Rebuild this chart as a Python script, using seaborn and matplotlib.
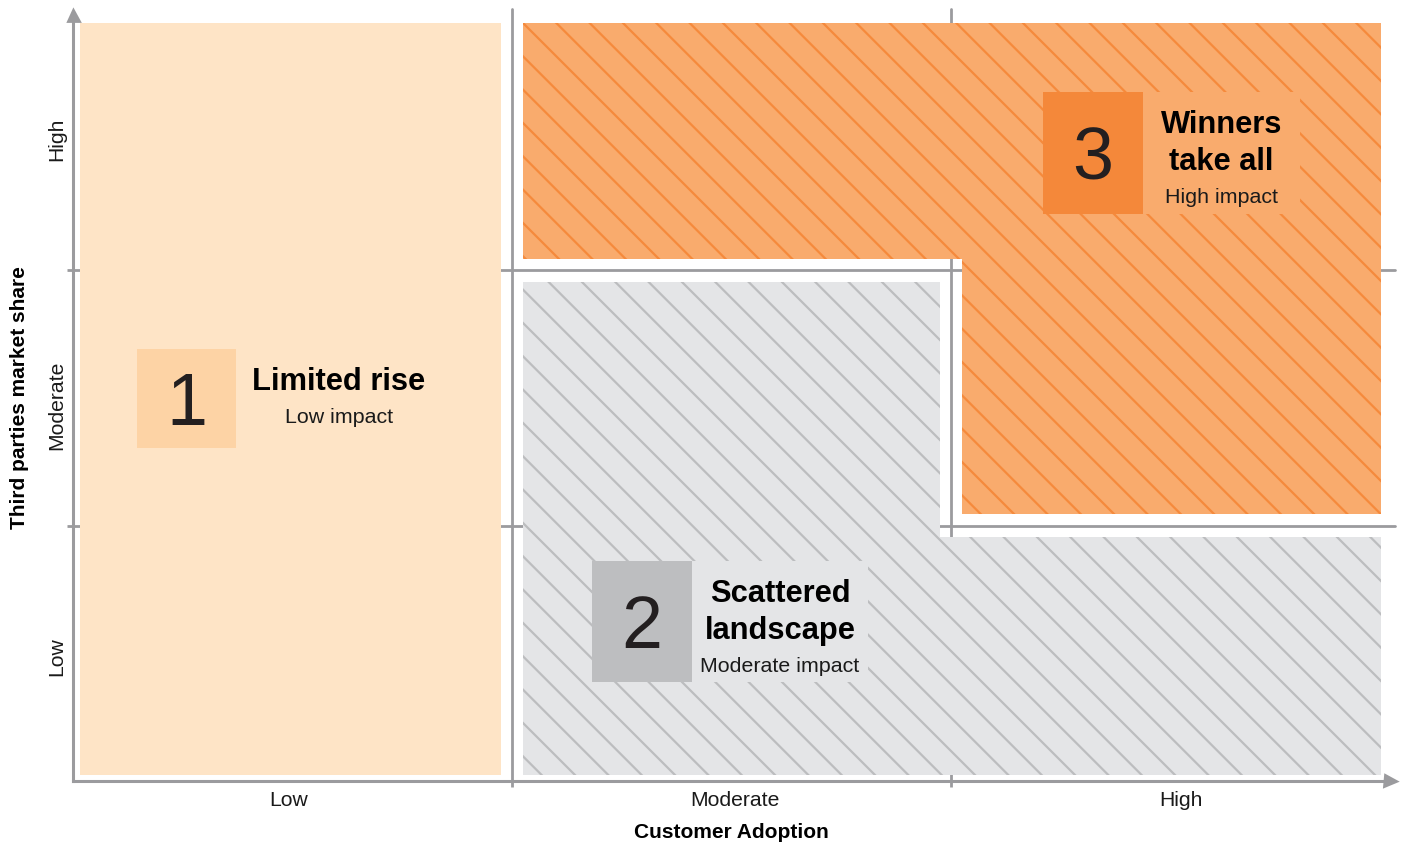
import numpy as np
import matplotlib
matplotlib.use("Agg")
import matplotlib.pyplot as plt
from matplotlib.patches import Rectangle
import seaborn as sns

# ---------------- data ----------------
x_categories = ["Low", "Moderate", "High"]
y_categories = ["Low", "Moderate", "High"]
x_title = "Customer Adoption"
y_title = "Third parties market share"
x_tick_pos = [0.492, 1.508, 2.524]
y_tick_pos = [0.485, 1.47, 2.51]

region_numbers = ["1", "2", "3"]
region_titles = [["Limited rise"], ["Scattered", "landscape"], ["Winners", "take all"]]
region_subtitles = ["Low impact", "Moderate impact", "High impact"]
# grid cells (x index, y index) covered by each scenario
region1_cells = [(0, 0), (0, 1), (0, 2)]
region2_cells = [(1, 0), (1, 1), (2, 0)]
region3_cells = [(1, 2), (2, 2), (2, 1)]
region_cells = [region1_cells, region2_cells, region3_cells]

# ---------------- styles ----------------
fill_colors = ["#FEE4C6", "#E4E5E7", "#F9AB6D"]
hatch_colors = [None, "#BCBDBF", "#F58A3C"]
box_colors = ["#FDD3A5", "#BDBEC0", "#F4883A"]
axis_gray = "#9B9B9E"
text_dark = "#1A1A1A"

sns.set_theme(style="white")
plt.rcParams["font.family"] = ["Liberation Sans", "DejaVu Sans"]
plt.rcParams["hatch.linewidth"] = 0.8

W, H, DPI = 1401, 843, 200
PT = DPI / 72.0
AX_L, AX_R, AX_B, AX_T = 73, 1390, 781, 14.5
NX, NY = len(x_categories), len(y_categories)
ppx = (AX_R - AX_L) / NX
ppy = (AX_B - AX_T) / NY


def dx(px):
    return (px - AX_L) / ppx


def dy(py):
    return (AX_B - py) / ppy


fig = plt.figure(figsize=(W / DPI, H / DPI), dpi=DPI)
ax = fig.add_axes([AX_L / W, (H - AX_B) / H, (AX_R - AX_L) / W, (AX_B - AX_T) / H])
ax.set_xlim(0, NX)
ax.set_ylim(0, NY)
ax.patch.set_alpha(0)

# insets in px
PAD_L, PAD_R, PAD_T, PAD_B, PAD_IN_X, PAD_IN_Y = 7, 9, 9, 6, 11, 11.5
EPS = 1.0


def core(i, j):
    l = i + (PAD_L if i == 0 else PAD_IN_X) / ppx
    r = i + 1 - (PAD_R if i + 1 == NX else PAD_IN_X) / ppx
    b = j + (PAD_B if j == 0 else PAD_IN_Y) / ppy
    t = j + 1 - (PAD_T if j + 1 == NY else PAD_IN_Y) / ppy
    return l, r, b, t


def region_rects(cells):
    s = set(cells)
    rects = []
    for (i, j) in cells:
        rects.append(core(i, j))
        if (i + 1, j) in s:
            l, r, b, t = core(i, j)
            l2, r2, b2, t2 = core(i + 1, j)
            rects.append((r - EPS / ppx, l2 + EPS / ppx, max(b, b2), min(t, t2)))
        if (i, j + 1) in s:
            l, r, b, t = core(i, j)
            l2, r2, b2, t2 = core(i, j + 1)
            rects.append((max(l, l2), min(r, r2), t - EPS / ppy, b2 + EPS / ppy))
    return rects


for k, cells in enumerate(region_cells):
    for (l, r, b, t) in region_rects(cells):
        if hatch_colors[k] is None:
            p = Rectangle((l, b), r - l, t - b, facecolor=fill_colors[k], edgecolor="none",
                          linewidth=0, zorder=1)
        else:
            p = Rectangle((l, b), r - l, t - b, facecolor=fill_colors[k],
                          edgecolor=hatch_colors[k], linewidth=0, hatch="\\\\", zorder=1)
        ax.add_patch(p)

# label blocks (px layout): box_left, box_top, box_w, box_h, text_w
blocks = [(137, 349, 99, 99, 206), (592, 561, 100, 121, 176), (1043, 92, 100, 122, 157)]
for k, (bl, bt, bw, bh, tw) in enumerate(blocks):
    # text background (hides hatch)
    ax.add_patch(Rectangle((dx(bl + bw), dy(bt + bh)), tw / ppx, bh / ppy,
                           facecolor=fill_colors[k], edgecolor="none", linewidth=0, zorder=2))
    ax.add_patch(Rectangle((dx(bl), dy(bt + bh)), bw / ppx, bh / ppy,
                           facecolor=box_colors[k], edgecolor="none", linewidth=0, zorder=2))
    ax.text(dx(bl + bw / 2), dy(bt + bh / 2 + 26.5), region_numbers[k], ha="center",
            va="baseline", fontsize=26.5, color="#231F20", zorder=3)
    cx = dx(bl + bw + tw / 2)
    base = bt + 41
    for n, line in enumerate(region_titles[k]):
        ax.text(cx, dy(base + 37 * n), line, ha="center", va="baseline", fontsize=11.1,
                fontweight="bold", color="black", zorder=3)
    sub_base = base + 37 * (len(region_titles[k]) - 1) + 33
    ax.text(cx, dy(sub_base), region_subtitles[k], ha="center", va="baseline",
            fontsize=7.7, color=text_dark, zorder=3)

# grid lines
for v in range(1, NX):
    ax.axvline(v, ymin=0, ymax=1.007, color=axis_gray, lw=1.0, clip_on=False, zorder=0.5)
for v in range(1, NY):
    ax.axhline(v, xmin=0, xmax=1.004, color=axis_gray, lw=1.0, clip_on=False, zorder=0.5)

# spines + arrows
sns.despine(ax=ax, top=True, right=True)
for side in ["left", "bottom"]:
    ax.spines[side].set_color(axis_gray)
    ax.spines[side].set_linewidth(1.1)
ax.plot([0], [1], marker="^", markersize=11 / PT, color=axis_gray, transform=ax.transAxes,
        clip_on=False, zorder=5)
ax.plot([1], [0], marker=">", markersize=11 / PT, color=axis_gray, transform=ax.transAxes,
        clip_on=False, zorder=5)

# ticks
ax.set_xticks(np.arange(1, NX))
ax.set_xticklabels([])
ax.set_yticks(np.arange(1, NY))
ax.set_yticklabels([])
ax.set_xticks(x_tick_pos, minor=True)
ax.set_xticklabels(x_categories, minor=True, fontsize=7.6, color=text_dark)
ax.set_yticks(y_tick_pos, minor=True)
ax.set_yticklabels(y_categories, minor=True, fontsize=7.6, color=text_dark, rotation=90,
                   va="center")
ax.tick_params(which="major", length=6 / PT, width=1.0, color=axis_gray, direction="out",
               bottom=True, left=True)
ax.tick_params(axis="x", which="minor", length=0, pad=3.6, bottom=True)
ax.tick_params(axis="y", which="minor", length=0, pad=2.5, left=True)

ax.set_xlabel(x_title, fontsize=7.5, fontweight="bold", color="black")
ax.set_ylabel(y_title, fontsize=7.5, fontweight="bold", color="black")
ax.xaxis.set_label_coords(0.5, (AX_B - 823) / (AX_B - AX_T))
ax.yaxis.set_label_coords((29 - AX_L) / (AX_R - AX_L), 0.5)

fig.savefig("out.png", dpi=DPI)
